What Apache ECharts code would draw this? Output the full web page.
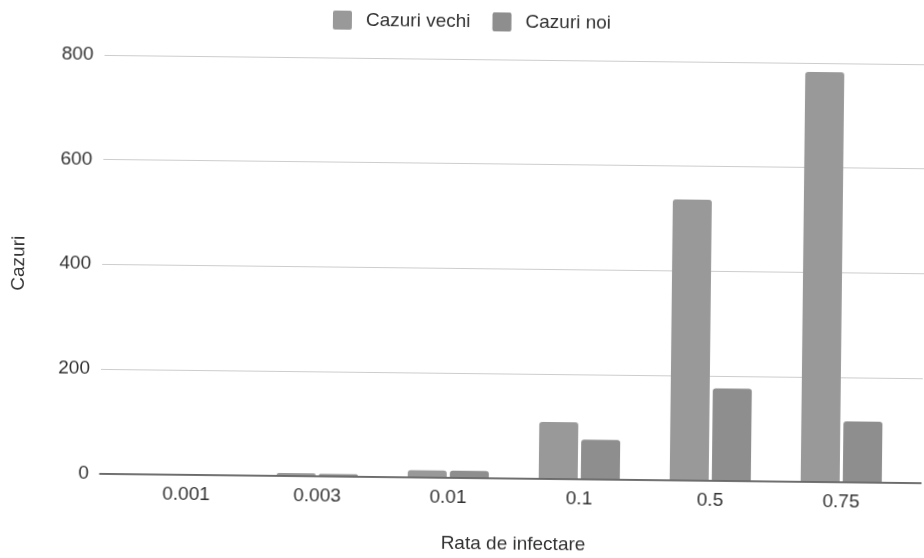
<!DOCTYPE html>
<html>
<head>
<meta charset="utf-8">
<title>Cazuri vs rata de infectare</title>
<script src="https://cdn.jsdelivr.net/npm/echarts@6/dist/echarts.min.js"></script>
<style>
  html, body { margin: 0; padding: 0; background: #ffffff; }
  #chart { width: 924px; height: 558px; transform: rotate(0.65deg); transform-origin: 462px 279px; }
</style>
</head>
<body>
<div id="chart"></div>
<script>
// Infection rates on the category axis
const categories = ['0.001', '0.003', '0.01', '0.1', '0.5', '0.75'];
// Case counts per series
const cazuriVechi = [0, 4, 12, 107, 536, 783];
const cazuriNoi = [0, 3, 12, 74, 175, 115];
// Value axis ticks
const yTicks = [0, 200, 400, 600, 800];

const FONT = '"Liberation Sans", Arial, sans-serif';
const TEXT = '#333333';
const yMin = yTicks[0];
const yMax = yTicks[yTicks.length - 1];
const yStep = yTicks[1] - yTicks[0];

// square legend swatch with slightly rounded corners
const SWATCH = 'path://M2,0H17A2,2 0 0 1 19,2V17A2,2 0 0 1 17,19H2A2,2 0 0 1 0,17V2A2,2 0 0 1 2,0Z';

const chart = echarts.init(document.getElementById('chart'), null, { renderer: 'canvas' });

chart.setOption({
  backgroundColor: '#ffffff',
  animation: false,
  textStyle: { fontFamily: FONT, color: TEXT },
  legend: {
    left: 325,
    top: 7,
    itemWidth: 19,
    itemHeight: 19,
    itemGap: 22,
    icon: SWATCH,
    textStyle: { fontFamily: FONT, fontSize: 19, color: TEXT, padding: [0, 0, 0, 9] },
    data: ['Cazuri vechi', 'Cazuri noi']
  },
  grid: [
    // full-width frame: gridlines, value labels and baseline
    { left: 102, right: 0, top: 59, bottom: 80.5 },
    // category band holding the bars
    { left: 123, right: 15, top: 59, bottom: 80.5 }
  ],
  xAxis: [
    {
      gridIndex: 0,
      type: 'category',
      data: [''],
      axisLine: { show: true, lineStyle: { color: '#4a4a4a', width: 1.6 } },
      axisTick: { show: false },
      axisLabel: { show: false },
      splitLine: { show: false }
    },
    {
      gridIndex: 1,
      type: 'category',
      data: categories,
      axisLine: { show: false },
      axisTick: { show: false },
      axisLabel: { fontFamily: FONT, fontSize: 19, color: TEXT, margin: 11 },
      name: 'Rata de infectare',
      nameLocation: 'middle',
      nameGap: 57,
      nameTextStyle: { fontFamily: FONT, fontSize: 19, color: TEXT }
    }
  ],
  yAxis: [
    {
      gridIndex: 0,
      type: 'value',
      min: yMin,
      max: yMax,
      interval: yStep,
      axisLine: { show: false },
      axisTick: { show: false },
      axisLabel: { fontFamily: FONT, fontSize: 19, color: TEXT, margin: 11 },
      splitLine: { show: true, lineStyle: { color: '#cdcdcd', width: 1 } },
      name: 'Cazuri',
      nameLocation: 'middle',
      nameGap: 74,
      nameRotate: 90,
      nameTextStyle: { fontFamily: FONT, fontSize: 19, color: TEXT }
    },
    {
      gridIndex: 1,
      type: 'value',
      min: yMin,
      max: yMax,
      interval: yStep,
      show: false,
      splitLine: { show: false }
    }
  ],
  series: [
    {
      name: 'Cazuri vechi',
      type: 'bar',
      xAxisIndex: 1,
      yAxisIndex: 1,
      data: cazuriVechi,
      barWidth: 39,
      barGap: '8%',
      itemStyle: { color: '#999999', borderRadius: [3, 3, 0, 0] }
    },
    {
      name: 'Cazuri noi',
      type: 'bar',
      xAxisIndex: 1,
      yAxisIndex: 1,
      data: cazuriNoi,
      barWidth: 39,
      barGap: '8%',
      itemStyle: { color: '#8e8e8e', borderRadius: [3, 3, 0, 0] }
    }
  ]
});
</script>
</body>
</html>
